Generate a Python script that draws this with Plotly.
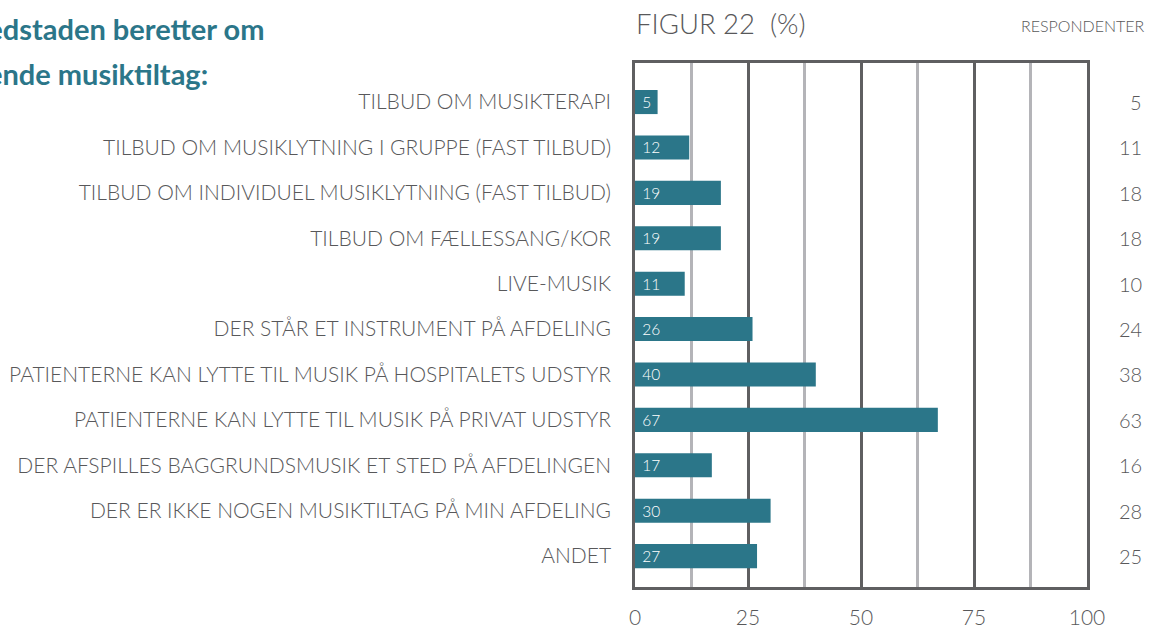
import plotly.graph_objects as go

categories = [
    "TILBUD OM MUSIKTERAPI",
    "TILBUD OM MUSIKLYTNING I GRUPPE (FAST TILBUD)",
    "TILBUD OM INDIVIDUEL MUSIKLYTNING (FAST TILBUD)",
    "TILBUD OM FÆLLESSANG/KOR",
    "LIVE-MUSIK",
    "DER STÅR ET INSTRUMENT PÅ AFDELING",
    "PATIENTERNE KAN LYTTE TIL MUSIK PÅ HOSPITALETS UDSTYR",
    "PATIENTERNE KAN LYTTE TIL MUSIK PÅ PRIVAT UDSTYR",
    "DER AFSPILLES BAGGRUNDSMUSIK ET STED PÅ AFDELINGEN",
    "DER ER IKKE NOGEN MUSIKTILTAG PÅ MIN AFDELING",
    "ANDET",
]
percent = [5, 12, 19, 19, 11, 26, 40, 67, 17, 30, 27]
respondents = [5, 11, 18, 18, 10, 24, 38, 63, 16, 28, 25]
x_ticks = [0, 25, 50, 75, 100]

title_lines = [
    "Andel af respondenter, der på deres afdeling",
    "i Region Hovedstaden beretter om",
    "følgende musiktiltag:",
]

TEAL = "#2b7689"
GRAY = "#58585a"
DARK = "#5f5f61"
LIGHT = "#b4b4b8"
FONT = "Lato"

idx = list(range(len(categories)))

fig = go.Figure()
fig.add_trace(go.Bar(
    x=percent, y=idx, orientation="h",
    marker=dict(color=TEAL, line=dict(width=0)),
    width=0.53,
    text=[" " + str(v) for v in percent],
    textposition="inside", insidetextanchor="start", textangle=0,
    textfont=dict(color="white", size=15.5, family=FONT, weight=300),
    cliponaxis=False,
    hoverinfo="skip",
))

W, H = 1149, 629
L, R, T, B = 635, 62, 63, 42
ph = H - T - B

def py(pix):
    return (H - B - pix) / ph

annotations = []
for i, r in zip(idx, respondents):
    annotations.append(dict(
        x=1, xref="paper", y=i, yref="y", xanchor="right", yanchor="middle",
        xshift=57, text=str(r), showarrow=False,
        font=dict(family=FONT, size=20, color=GRAY, weight=300)))

annotations.append(dict(x=0, xref="paper", y=py(24), yref="paper",
                        xanchor="left", yanchor="middle", showarrow=False, xshift=-1,
                        text="FIGUR 22  (%)",
                        font=dict(family=FONT, size=27.5, color=GRAY, weight=300)))
annotations.append(dict(x=1, xref="paper", y=py(26), yref="paper",
                        xanchor="right", yanchor="middle", xshift=60,
                        showarrow=False, text="RESPONDENTER",
                        font=dict(family=FONT, size=16, color=GRAY, weight=300)))

title_ends = [262, 266, 210]
title_y = [-19, 29, 74]
for txt, xe, yc in zip(title_lines, title_ends, title_y):
    annotations.append(dict(x=(xe - L) / (W - L - R), xref="paper", y=py(yc), yref="paper",
                            xanchor="right", yanchor="middle", showarrow=False,
                            text="<b>" + txt + "</b>",
                            font=dict(family=FONT, size=29, color=TEAL)))

fig.update_layout(
    width=W, height=H,
    margin=dict(l=L, r=R, t=T, b=B, pad=0, autoexpand=False),
    paper_bgcolor="white", plot_bgcolor="white",
    showlegend=False,
    annotations=annotations,
    font=dict(family=FONT, color=GRAY),
)
fig.update_xaxes(
    range=[0, 100], tickvals=x_ticks, ticktext=[str(v) for v in x_ticks],
    showgrid=True, gridcolor=DARK, gridwidth=2.5,
    minor=dict(dtick=12.5, tick0=0, showgrid=True, gridcolor=LIGHT, gridwidth=2.5),
    showline=True, mirror=True, linecolor=DARK, linewidth=2.5,
    zeroline=False, ticks="", automargin=False,
    tickfont=dict(family=FONT, size=21, color=GRAY, weight=300),
    ticklabelstandoff=10,
)
fig.update_yaxes(
    range=[10.68, -0.86], tickvals=idx, ticktext=categories,
    showgrid=False, zeroline=False, automargin=False,
    showline=True, mirror=True, linecolor=DARK, linewidth=2.5,
    ticks="", tickfont=dict(family=FONT, size=21, color=GRAY, weight=300),
    ticklabelstandoff=17,
)

fig.write_html("out.html", config={"displayModeBar": False},
               post_script="document.body.style.margin='0px';document.body.style.overflow='hidden';")
